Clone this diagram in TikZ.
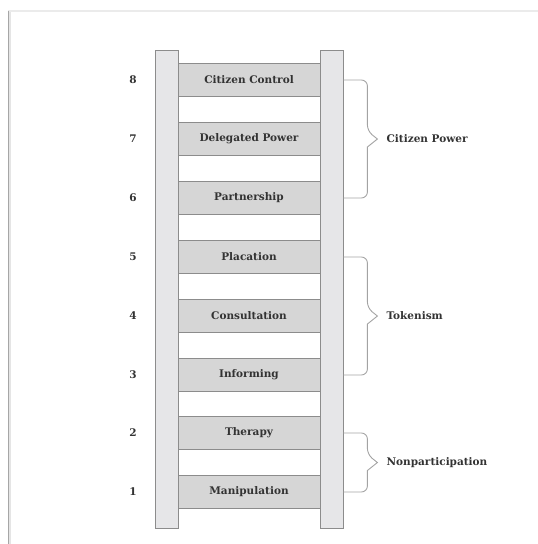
\documentclass[tikz,border=0pt]{standalone}
\usepackage{fontspec}
\setmainfont{DejaVu Serif}
\usetikzlibrary{positioning}
\usetikzlibrary{calc}

\definecolor{inkgray}{HTML}{333333}
\definecolor{railfill}{HTML}{E6E6E8}
\definecolor{rungfill}{HTML}{D6D6D6}
\definecolor{edgegray}{HTML}{8C8C8C}

\tikzset{
  rail/.style={draw=edgegray, fill=railfill, line width=0.8pt, minimum width=23pt, minimum height=478pt, inner sep=0pt},
  rung/.style={draw=edgegray, fill=rungfill, line width=1pt, minimum width=142pt, minimum height=33pt, inner sep=0pt, font=\bfseries\fontsize{10.5}{12}\selectfont, text=inkgray},
  rungnum/.style={font=\bfseries\fontsize{10.5}{12}\selectfont, text=inkgray},
  grouplabel/.style={font=\bfseries\fontsize{10.5}{12}\selectfont, text=inkgray, anchor=west, inner sep=0pt},
  brace/.style={draw=edgegray!80, line width=0.9pt}
}

\begin{document}
\begin{tikzpicture}[x=1pt,y=-1pt]
\useasboundingbox (0,0) rectangle (538,544);

% frame
\draw[black!8, line width=2pt] (8,11) -- (538,11);
\draw[black!10, line width=3pt] (9.5,12) -- (9.5,544);
\draw[black!35, line width=0.8pt] (8,11) -- (8,544);

% rails
\node[rail] (lrail) at (166.5,289) {};
\node[rail] (rrail) at (331.5,289) {};

% rungs
\node[rung] (r8) at (249,80)  {Citizen Control};
\node[rung] (r7) at (249,139) {Delegated Power};
\node[rung] (r6) at (249,198) {Partnership};
\node[rung] (r5) at (249,257) {Placation};
\node[rung] (r4) at (249,316) {Consultation};
\node[rung] (r3) at (249,375) {Informing};
\node[rung] (r2) at (249,433) {Therapy};
\node[rung] (r1) at (249,492) {Manipulation};

% numbers
\foreach \i in {1,...,8}
  \node[rungnum] (n\i) at (133,0 |- r\i) {\i};

% braces
\foreach \top/\bot/\name/\txt in {r8/r6/power/Citizen Power, r5/r3/token/Tokenism, r2/r1/nonpart/Nonparticipation} {
  \coordinate (\name-t) at (rrail.east |- \top);
  \coordinate (\name-b) at (rrail.east |- \bot);
  \coordinate (\name-m) at ($(\name-t)!0.5!(\name-b)$);
  \coordinate (\name-tip) at ($(\name-m)+(34,0)$);
  \draw[brace] (\name-t) [rounded corners=6pt] -- ++(24,0) -- ($(\name-m)+(24,-8)$) [sharp corners] -- (\name-tip) -- ($(\name-m)+(24,8)$) [rounded corners=6pt] -- ($(\name-b)+(24,0)$) -- (\name-b);
  \node[grouplabel, right=9pt of \name-tip] (\name) {\txt};
}
\end{tikzpicture}
\end{document}
